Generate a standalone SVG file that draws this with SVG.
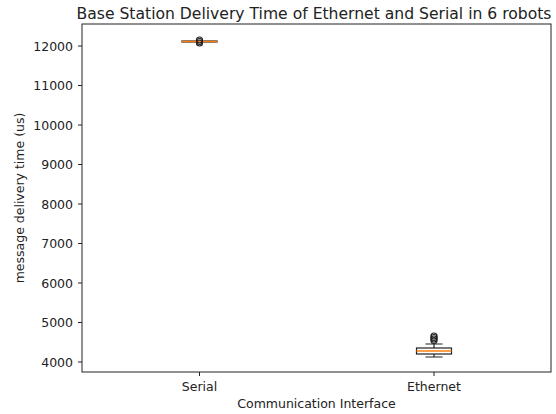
<svg xmlns="http://www.w3.org/2000/svg" width="556" height="414" viewBox="0 0 556 414">
<style>
text{font-family:"DejaVu Sans",sans-serif;fill:#222}
.tick{font-size:12.5px}
.ax{stroke:#222;stroke-width:1;fill:none}
.box{stroke:#222;stroke-width:1.2;fill:none}
.med{stroke:#ff7f0e;stroke-width:1.5}
.fl{stroke:#222;stroke-width:1.2;fill:none}
</style>
<rect width="556" height="414" fill="#fff"/>
<text x="314" y="19" font-size="15.6" text-anchor="middle">Base Station Delivery Time of Ethernet and Serial in 6 robots</text>
<g id="axes">
<rect class="ax" x="82" y="24" width="469" height="348"/>
<g class="ax">
<path d="M78 46H82M78 85.5H82M78 125H82M78 164.5H82M78 204H82M78 243.5H82M78 283H82M78 322.5H82M78 362H82"/>
<path d="M199.5 372V376M434 372V376"/>
</g>
<g class="tick" text-anchor="end">
<text x="73" y="50.5">12000</text>
<text x="73" y="90">11000</text>
<text x="73" y="129.5">10000</text>
<text x="73" y="169">9000</text>
<text x="73" y="208.5">8000</text>
<text x="73" y="248">7000</text>
<text x="73" y="287.5">6000</text>
<text x="73" y="327">5000</text>
<text x="73" y="366.5">4000</text>
</g>
<g class="tick" text-anchor="middle">
<text x="199.5" y="391">Serial</text>
<text x="434" y="391">Ethernet</text>
</g>
<text x="316.5" y="408" font-size="12.5" text-anchor="middle">Communication Interface</text>
<text transform="translate(24 198) rotate(-90)" font-size="12.5" text-anchor="middle">message delivery time (us)</text>
</g>
<g id="serial">
<rect class="box" x="182" y="41" width="35" height="1"/>
<line class="med" x1="182" y1="41.5" x2="217" y2="41.5"/>
<circle class="fl" cx="199.5" cy="40" r="3"/>
<circle class="fl" cx="199.5" cy="41.5" r="3"/>
<circle class="fl" cx="199.5" cy="43" r="3"/>
</g>
<g id="ethernet">
<path class="box" d="M434 348V344M425.5 344H442.5M434 354V357M425.5 357H442.5"/>
<rect class="box" x="416.5" y="348" width="35" height="6"/>
<line class="med" x1="416.5" y1="351" x2="451.5" y2="351"/>
<circle class="fl" cx="434" cy="336" r="3"/>
<circle class="fl" cx="434" cy="337.5" r="3"/>
<circle class="fl" cx="434" cy="339" r="3"/>
<circle class="fl" cx="434" cy="340.5" r="3"/>
</g>
</svg>
